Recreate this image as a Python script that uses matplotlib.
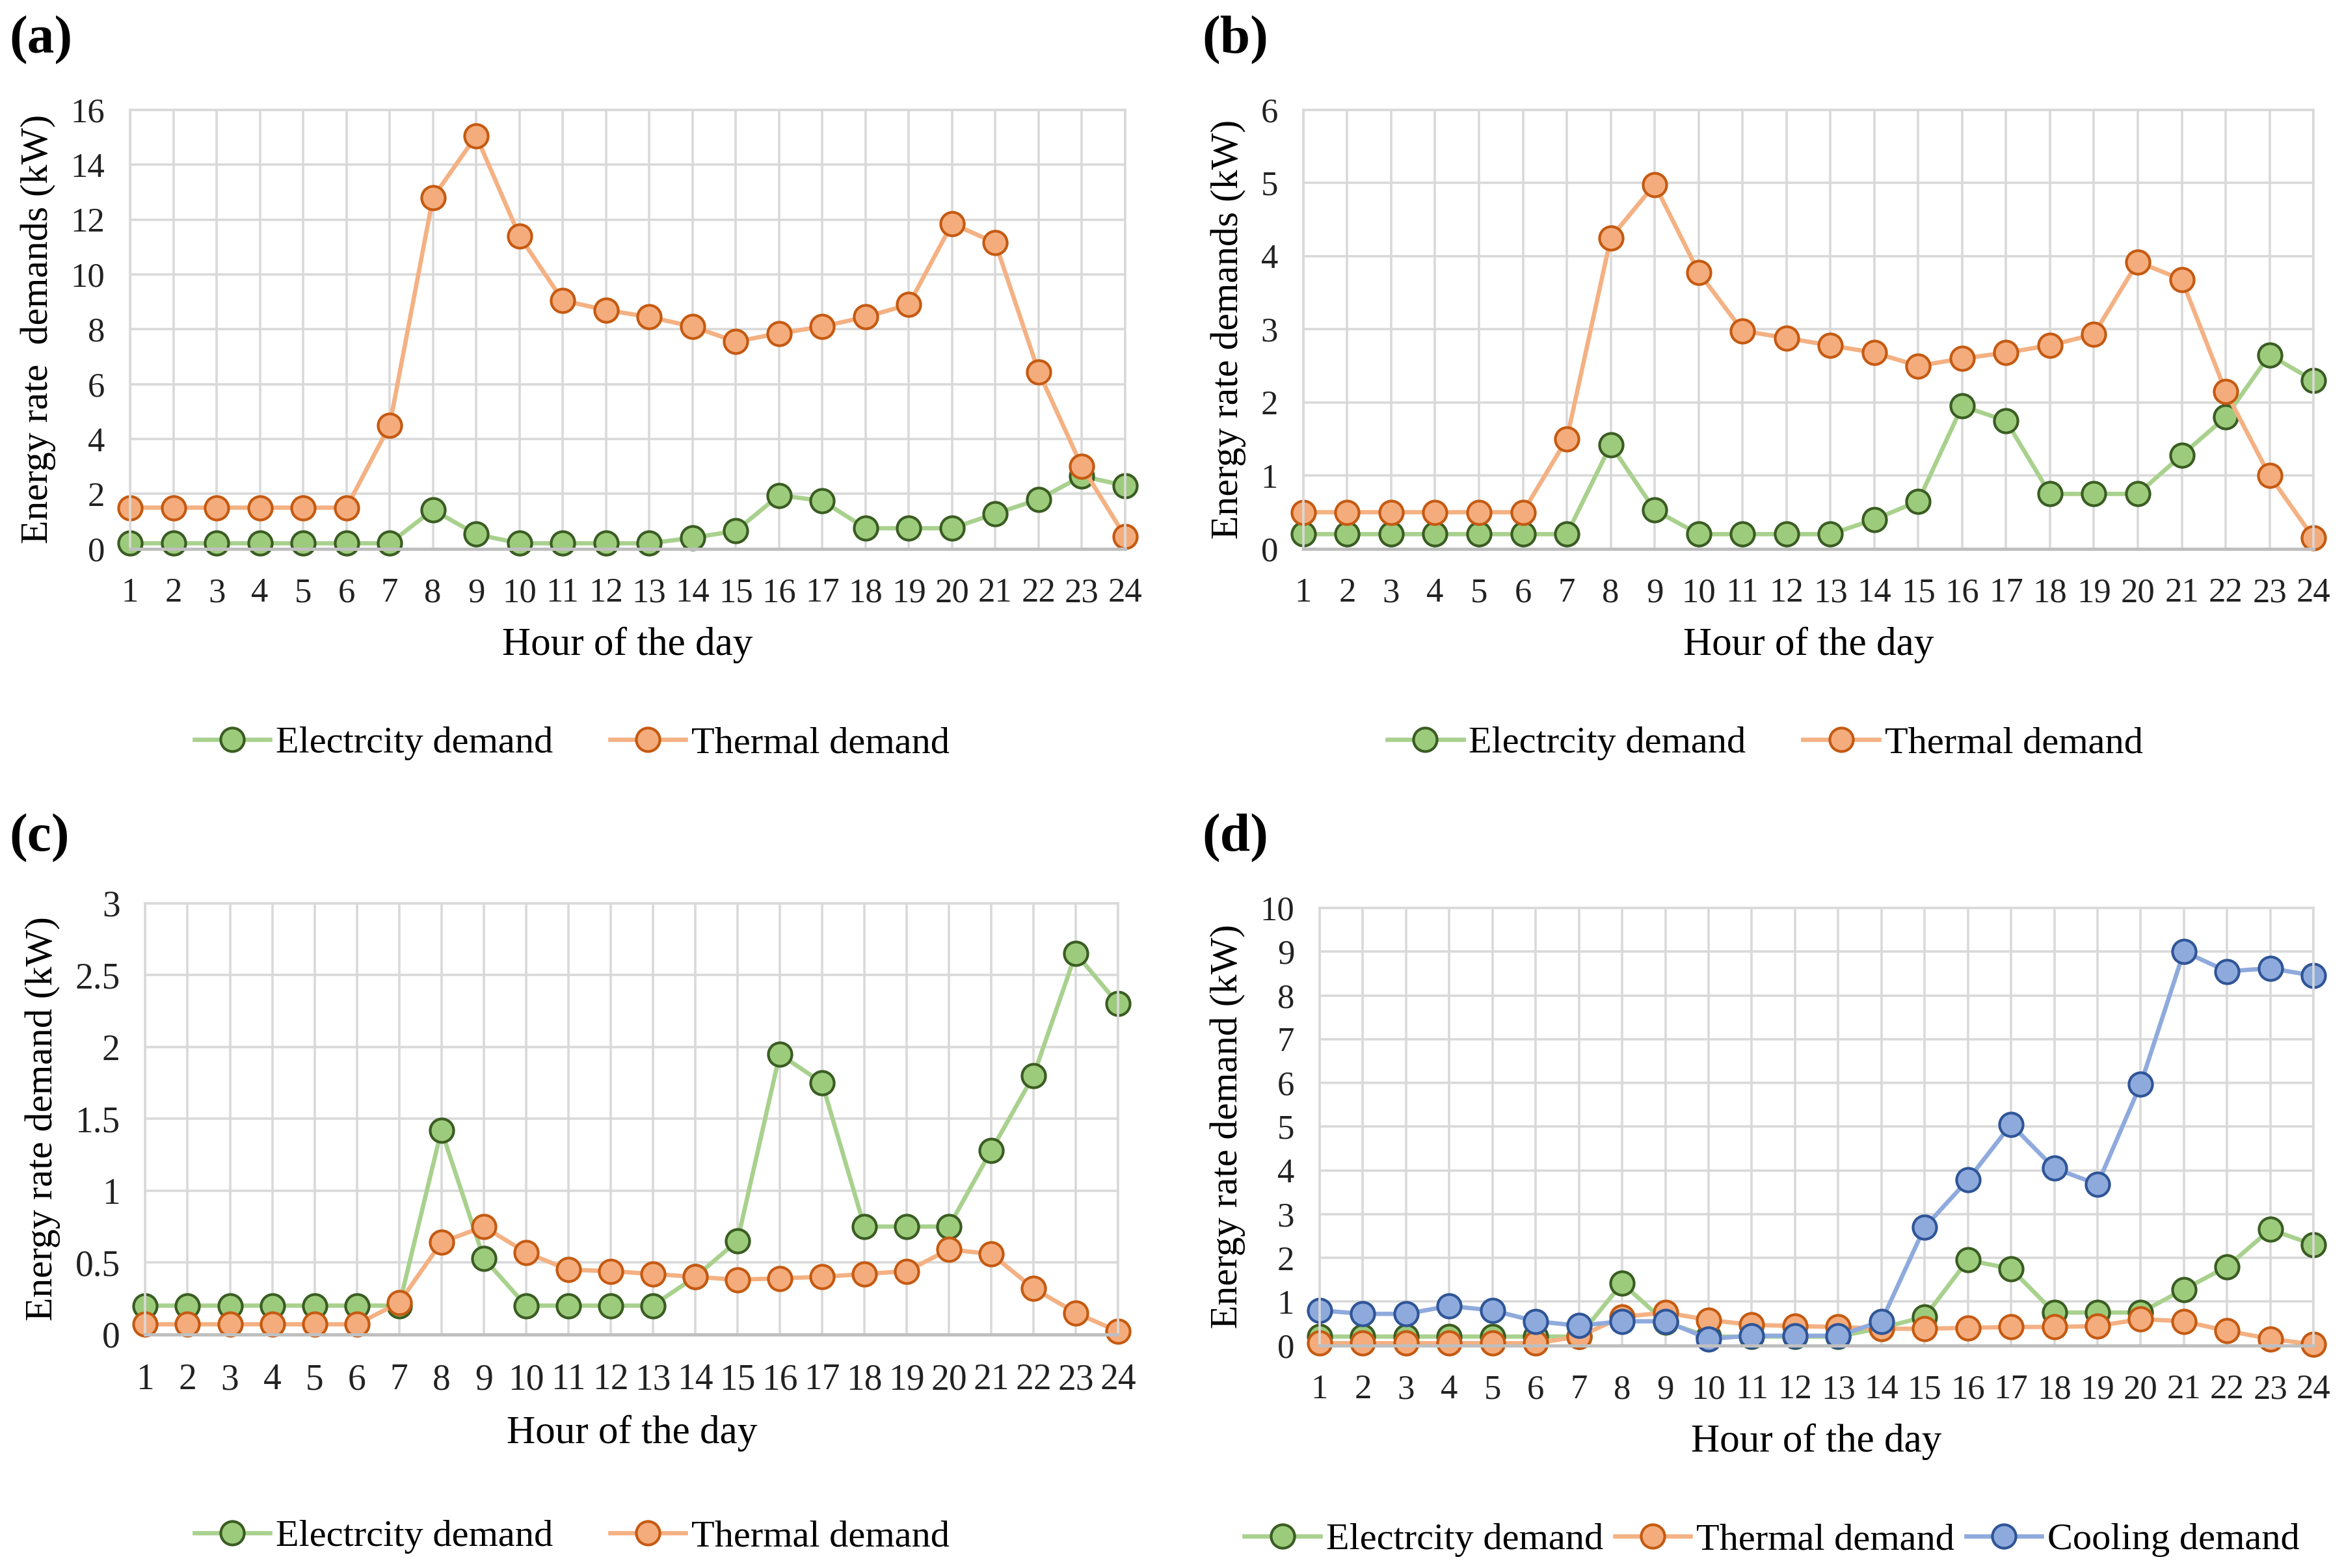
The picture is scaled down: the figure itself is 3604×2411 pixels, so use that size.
import numpy as np
import matplotlib
matplotlib.use("Agg")
import matplotlib.pyplot as plt

plt.rcParams["font.family"] = ["Liberation Serif", "DejaVu Serif"]

hours = list(range(1, 25))

# electricity demand (same profile in every panel)
elec = [0.2, 0.2, 0.2, 0.2, 0.2, 0.2, 0.2, 1.42, 0.53, 0.2, 0.2, 0.2,
        0.2, 0.4, 0.65, 1.95, 1.75, 0.75, 0.75, 0.75, 1.28, 1.8, 2.65, 2.3]

# thermal demand for panels a, b, c, d
thermal_a = [1.5, 1.5, 1.5, 1.5, 1.5, 1.5, 4.5, 12.8, 15.05, 11.4, 9.05, 8.7,
             8.45, 8.1, 7.55, 7.85, 8.1, 8.45, 8.9, 11.85, 11.15, 6.45, 3.0, 0.45]
thermal_b = [0.5, 0.5, 0.5, 0.5, 0.5, 0.5, 1.5, 4.25, 4.98, 3.78, 2.98, 2.88,
             2.78, 2.68, 2.5, 2.6, 2.68, 2.78, 2.93, 3.92, 3.68, 2.15, 1.0, 0.15]
thermal_c = [0.07, 0.07, 0.07, 0.07, 0.07, 0.07, 0.22, 0.64, 0.75, 0.57, 0.45, 0.44,
             0.42, 0.4, 0.38, 0.39, 0.4, 0.42, 0.44, 0.59, 0.56, 0.32, 0.15, 0.02]
thermal_d = [0.05, 0.05, 0.05, 0.05, 0.05, 0.05, 0.2, 0.65, 0.75, 0.58, 0.47, 0.44,
             0.42, 0.38, 0.38, 0.4, 0.42, 0.42, 0.44, 0.6, 0.55, 0.33, 0.15, 0.02]
cooling_d = [0.8, 0.72, 0.72, 0.9, 0.8, 0.55, 0.45, 0.55, 0.55, 0.15, 0.22, 0.22,
             0.22, 0.55, 2.7, 3.78, 5.05, 4.05, 3.68, 5.97, 9.0, 8.55, 8.62, 8.45]

styles = {
    "Electrcity demand": ("#a9d18e", "#9dcb7c", "#3a5d22"),
    "Thermal demand": ("#f4b183", "#f4ac7c", "#c55a11"),
    "Cooling demand": ("#8faadc", "#8eaadc", "#2f5597"),
}

GRID = "#d9d9d9"


def panel(rect, letter, letter_xy, series, ymax, ystep, ylabel, legend_x, legend_y,
          tick_fs=19, colsp=1.5):
    ax = fig.add_axes(rect)
    for name, vals in series:
        lc, fc, ec = styles[name]
        ax.plot(hours, vals, color=lc, lw=2.4, marker="o", ms=13,
                mfc=fc, mec=ec, mew=1.5, label=name, clip_on=False)
    ax.set_xlim(1, 24)
    ax.set_ylim(0, ymax)
    ax.set_xticks(hours)
    yt = np.arange(0, ymax + ystep / 2, ystep)
    ax.set_yticks(yt)
    ax.set_yticklabels([f"{v:g}" for v in yt])
    ax.grid(True, color=GRID, lw=1.3)
    ax.set_axisbelow(True)
    for s in ["left", "right", "top"]:
        ax.spines[s].set_color(GRID)
        ax.spines[s].set_linewidth(1.3)
    ax.spines["bottom"].set_color("#bfbfbf")
    ax.spines["bottom"].set_linewidth(1.8)
    ax.tick_params(length=0, labelsize=tick_fs, pad=14, colors="#222222")
    ax.tick_params(axis="x", pad=16)
    ax.set_xlabel("Hour of the day", fontsize=22, labelpad=10)
    ax.set_ylabel(ylabel, fontsize=21.5, labelpad=8)
    fig.text(letter_xy[0], letter_xy[1], letter, fontsize=30, fontweight="bold",
             ha="left", va="top")
    fig.legend(*ax.get_legend_handles_labels(), loc="center",
               bbox_to_anchor=(legend_x, legend_y), ncol=len(series), frameon=False,
               fontsize=21, handlelength=2.0, handletextpad=0.15, columnspacing=colsp)
    return ax


fig = plt.figure(figsize=(18.02, 12.055), dpi=200)

panel([0.0555, 0.650, 0.4245, 0.280], "(a)", (0.004, 0.990),
      [("Electrcity demand", elec), ("Thermal demand", thermal_a)],
      16, 2, "Energy rate  demands (kW)", 0.244, 0.526)
panel([0.556, 0.650, 0.431, 0.280], "(b)", (0.513, 0.990),
      [("Electrcity demand", elec), ("Thermal demand", thermal_b)],
      6, 1, "Energy rate demands (kW)", 0.753, 0.526)
panel([0.062, 0.149, 0.415, 0.275], "(c)", (0.004, 0.481),
      [("Electrcity demand", elec), ("Thermal demand", thermal_c)],
      3, 0.5, "Energy rate demand (kW)", 0.244, 0.020, tick_fs=20)
panel([0.563, 0.142, 0.424, 0.279], "(d)", (0.513, 0.481),
      [("Electrcity demand", elec), ("Thermal demand", thermal_d),
       ("Cooling demand", cooling_d)],
      10, 1, "Energy rate demand (kW)", 0.756, 0.018, colsp=0.3)

fig.savefig("out.png", dpi=200)
